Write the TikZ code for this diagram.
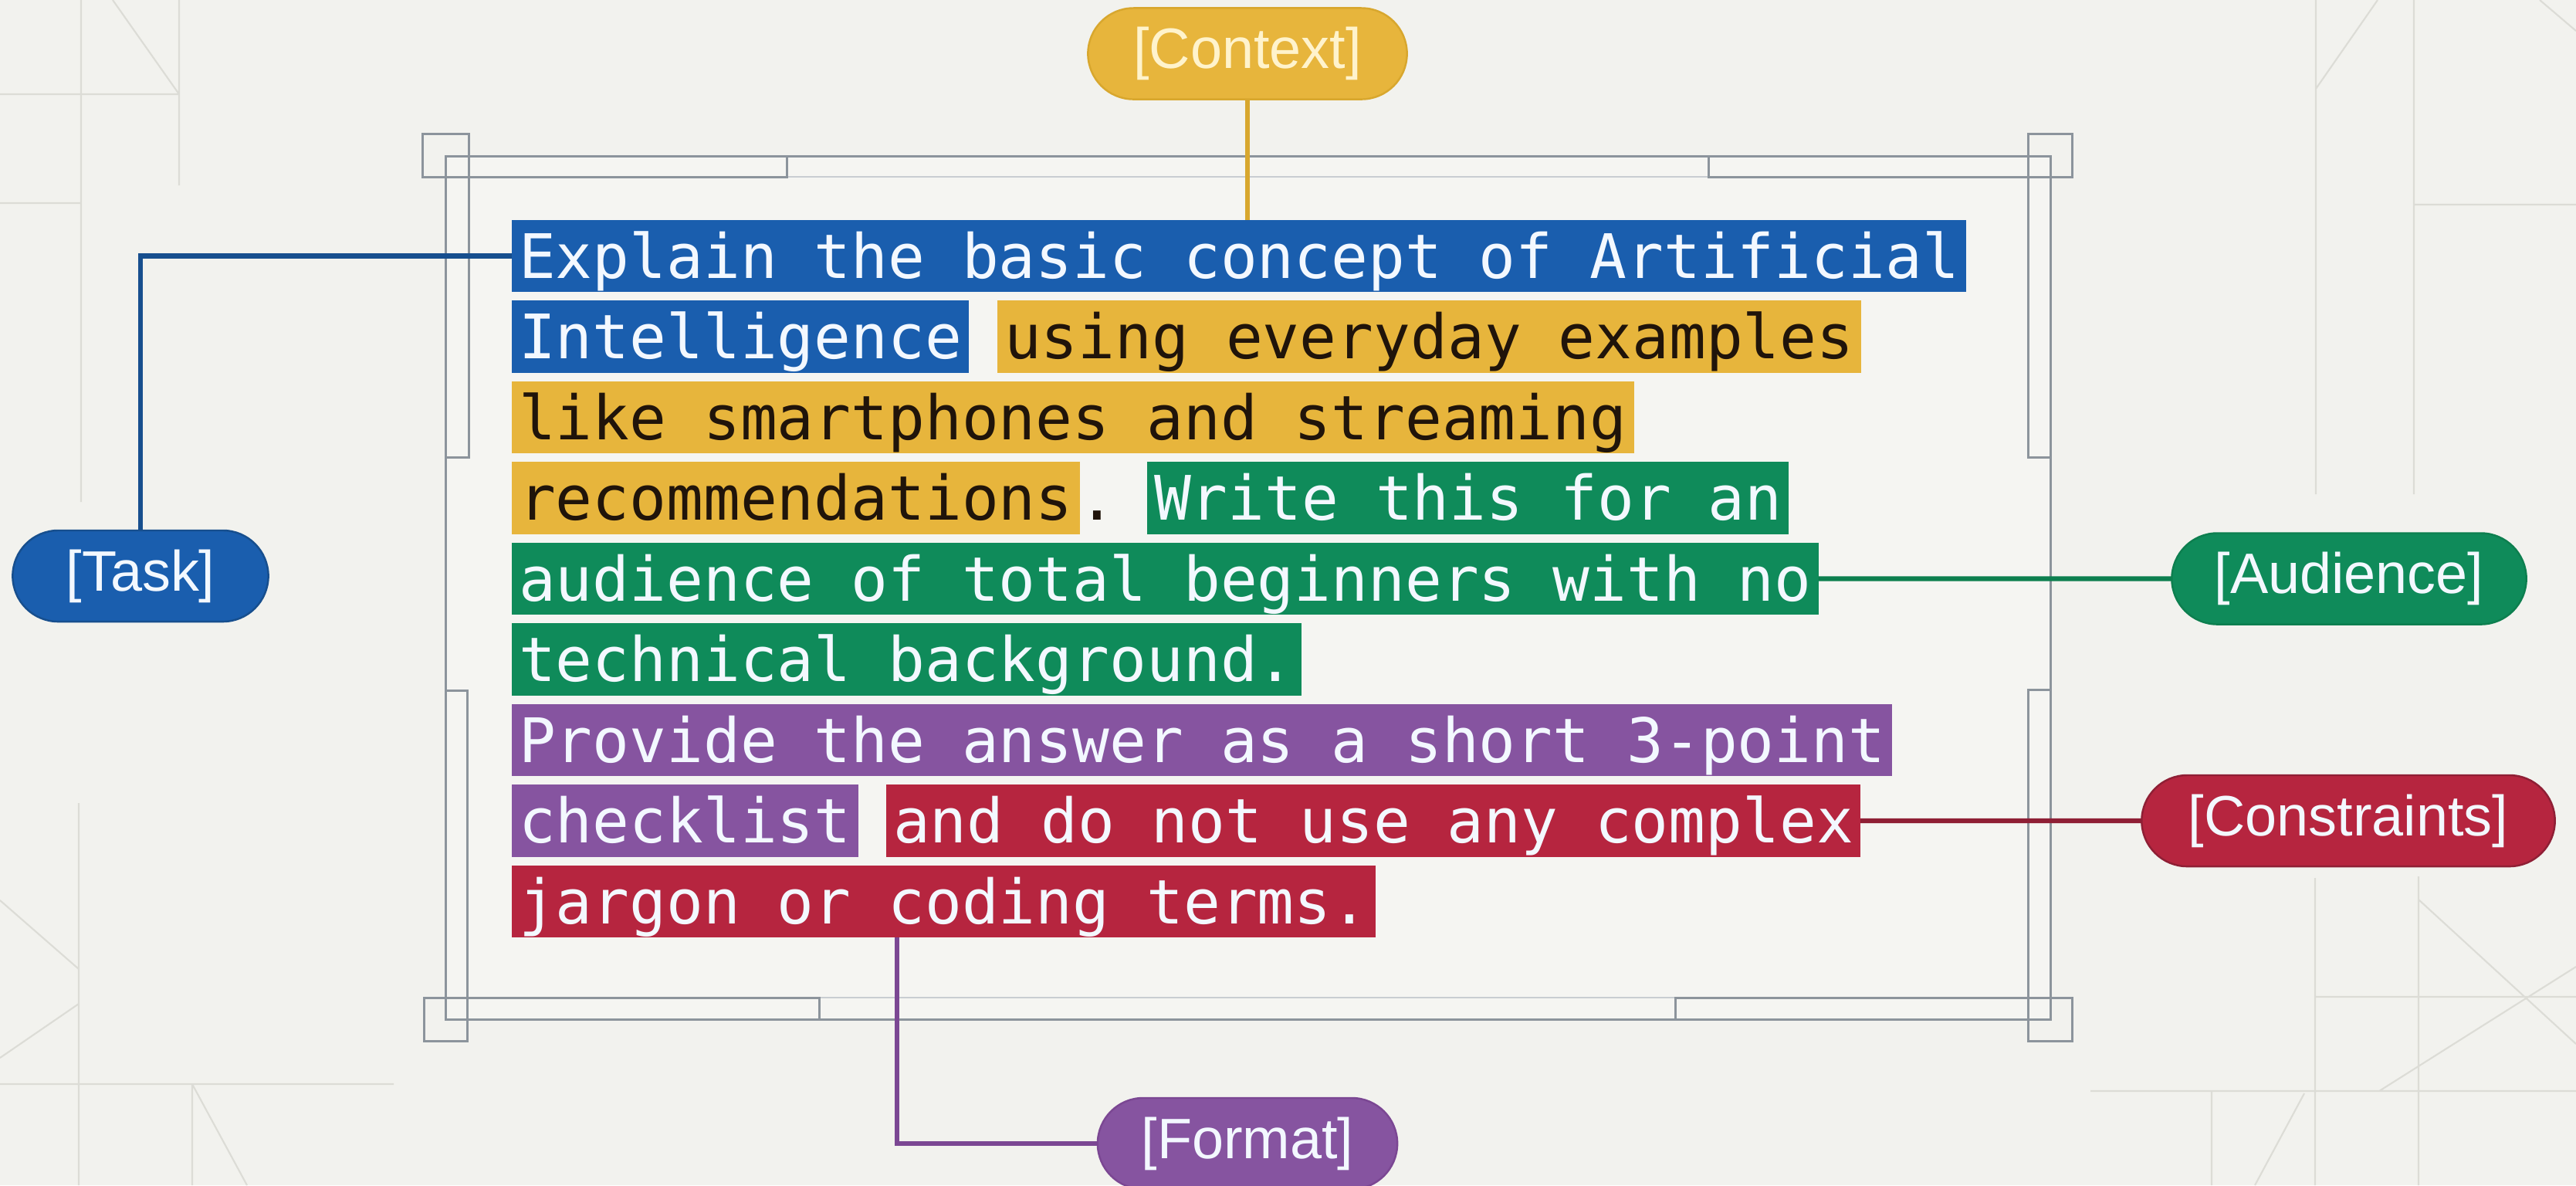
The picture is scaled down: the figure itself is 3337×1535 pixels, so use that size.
\documentclass[tikz,border=0pt]{standalone}
\usepackage{fontspec}
\setmainfont{Liberation Sans}
\setmonofont{DejaVu Sans Mono}
\usetikzlibrary{calc}
\definecolor{bg}{HTML}{F2F2EE}
\definecolor{cinner}{HTML}{F5F5F2}
\definecolor{cframe}{HTML}{8C949C}
\definecolor{cframel}{HTML}{C9CDD2}
\definecolor{cfaint}{HTML}{DCDCD6}
\definecolor{cblue}{HTML}{1A5EAE}
\definecolor{cyellow}{HTML}{E7B53C}
\definecolor{cgreen}{HTML}{0F8B5A}
\definecolor{cpurple}{HTML}{8654A0}
\definecolor{cred}{HTML}{B6253F}
\definecolor{tlight}{HTML}{F3F8FF}
\definecolor{tdark}{HTML}{20140A}
\definecolor{ctxtext}{HTML}{FFF3CC}
\definecolor{lblue}{HTML}{174F8E}
\definecolor{lyellow}{HTML}{D8A72E}
\definecolor{lgreen}{HTML}{0D7F4F}
\definecolor{lred}{HTML}{8F1F35}
\definecolor{lpurple}{HTML}{7B4793}
\newcommand\promptfont{\ttfamily\fontsize{22.6pt}{27pt}\selectfont}
\newcommand\labelfont{\fontsize{21pt}{25pt}\selectfont}
\frenchspacing
\tikzset{
  seg/.style={anchor=base west, inner xsep=0.09cm, inner ysep=0pt, outer sep=0pt,
    text height=0.75cm, text depth=0.18cm, font=\promptfont},
  bseg/.style={seg, fill=cblue, text=tlight},
  yseg/.style={seg, fill=cyellow, text=tdark},
  gseg/.style={seg, fill=cgreen, text=tlight},
  pseg/.style={seg, fill=cpurple, text=tlight},
  rseg/.style={seg, fill=cred, text=tlight},
  pseg0/.style={seg, text=tdark},
  pill/.style={rectangle, rounded corners=0.59cm, minimum height=1.18cm, inner sep=0pt,
    outer sep=0pt, font=\labelfont, line width=0.7pt, text=tlight},
  conn/.style={line width=1.8pt},
  frameline/.style={draw=cframe, line width=0.85pt},
  framelight/.style={draw=cframel, line width=0.7pt},
  faint/.style={draw=cfaint, line width=0.6pt},
}
\begin{document}
\begin{tikzpicture}[x=0.01cm, y=-0.01cm]
\useasboundingbox (0,0) rectangle (3337,1535);
\fill[bg] (0,0) rectangle (3337,1535);
% faint decorative lines
\draw[faint] (105,0) -- (105,650) (232,0) -- (232,240) (0,122) -- (232,122)
  (0,263) -- (105,263) (146,0) -- (232,122);
\draw[faint] (102,1040) -- (102,1535) (249,1404) -- (249,1535) (0,1404) -- (510,1404)
  (0,1166) -- (102,1255) (249,1404) -- (320,1535) (102,1300) -- (0,1370);
\draw[faint] (3000,0) -- (3000,640) (3127,0) -- (3127,640) (3127,265) -- (3337,265)
  (3000,115) -- (3080,0) (3290,0) -- (3337,40);
\draw[faint] (3133,1135) -- (3133,1535) (2999,1137) -- (2999,1535) (2865,1413) -- (2865,1535)
  (2999,1291) -- (3337,1291) (2708,1413) -- (3337,1413)
  (3133,1165) -- (3337,1352) (3082,1413) -- (3337,1252) (2985,1416) -- (2921,1535);
% frame
\fill[cinner] (577,202) rectangle (2656,1320);
\draw[framelight] (1019,229) -- (2213,229) (1061,1292) -- (2170,1292);
\draw[frameline] (577,202) rectangle (2656,1320);
\draw[frameline] (1019,202) -- (1019,229) -- (547,229) -- (547,173) -- (607,173) -- (607,592) -- (577,592);
\draw[frameline] (2213,202) -- (2213,229) -- (2684,229) -- (2684,173) -- (2627,173) -- (2627,592) -- (2656,592);
\draw[frameline] (1061,1320) -- (1061,1292) -- (549,1292) -- (549,1348) -- (605,1348) -- (605,894) -- (577,894);
\draw[frameline] (2170,1320) -- (2170,1292) -- (2684,1292) -- (2684,1348) -- (2627,1348) -- (2627,893) -- (2656,893);
% prompt text segments
\node[bseg] (r1a) at (663,360) {Explain the basic concept of Artificial};
\node[bseg] (r2a) at (663,464.5) {Intelligence};
\node[yseg] (r2b) at (1292,464.5) {using everyday examples};
\node[yseg] (r3a) at (663,569) {like smartphones and streaming};
\node[yseg] (r4a) at (663,673.5) {recommendations};
\node[pseg0] (r4d) at (1388,673.5) {.};
\node[gseg] (r4b) at (1486,673.5) {Write this for an};
\node[gseg] (r5a) at (663,778) {audience of total beginners with no};
\node[gseg] (r6a) at (663,882.5) {technical background.};
\node[pseg] (r7a) at (663,987) {Provide the answer as a short 3-point};
\node[pseg] (r8a) at (663,1091.5) {checklist};
\node[rseg] (r8b) at (1148,1091.5) {and do not use any complex};
\node[rseg] (r9a) at (663,1196) {jargon or coding terms.};
% labels
\node[pill, fill=cblue, draw=lblue, minimum width=3.31cm] (task) at (182,746) {[Task]};
\node[pill, fill=cyellow, draw=lyellow, minimum width=4.13cm, text=ctxtext] (context) at (1616,69.5) {[Context]};
\node[pill, fill=cgreen, draw=lgreen, minimum width=4.59cm] (audience) at (3043,749.5) {[Audience]};
\node[pill, fill=cred, draw=lred, minimum width=5.35cm] (constraints) at (3042,1063) {[Constraints]};
\node[pill, fill=cpurple, draw=lpurple, minimum width=3.88cm] (format) at (1616,1481) {[Format]};
% connectors
\draw[conn, draw=lblue] (r1a.west) -| (task.north);
\draw[conn, draw=lyellow] (context.south) -- (context.south |- r1a.north);
\draw[conn, draw=lgreen] (r5a.east) -- (audience.west);
\draw[conn, draw=lred] (r8b.east) -- (constraints.west);
\draw[conn, draw=lpurple] ($(r9a.south west)+(499,0)$) |- (format.west);
\end{tikzpicture}
\end{document}
